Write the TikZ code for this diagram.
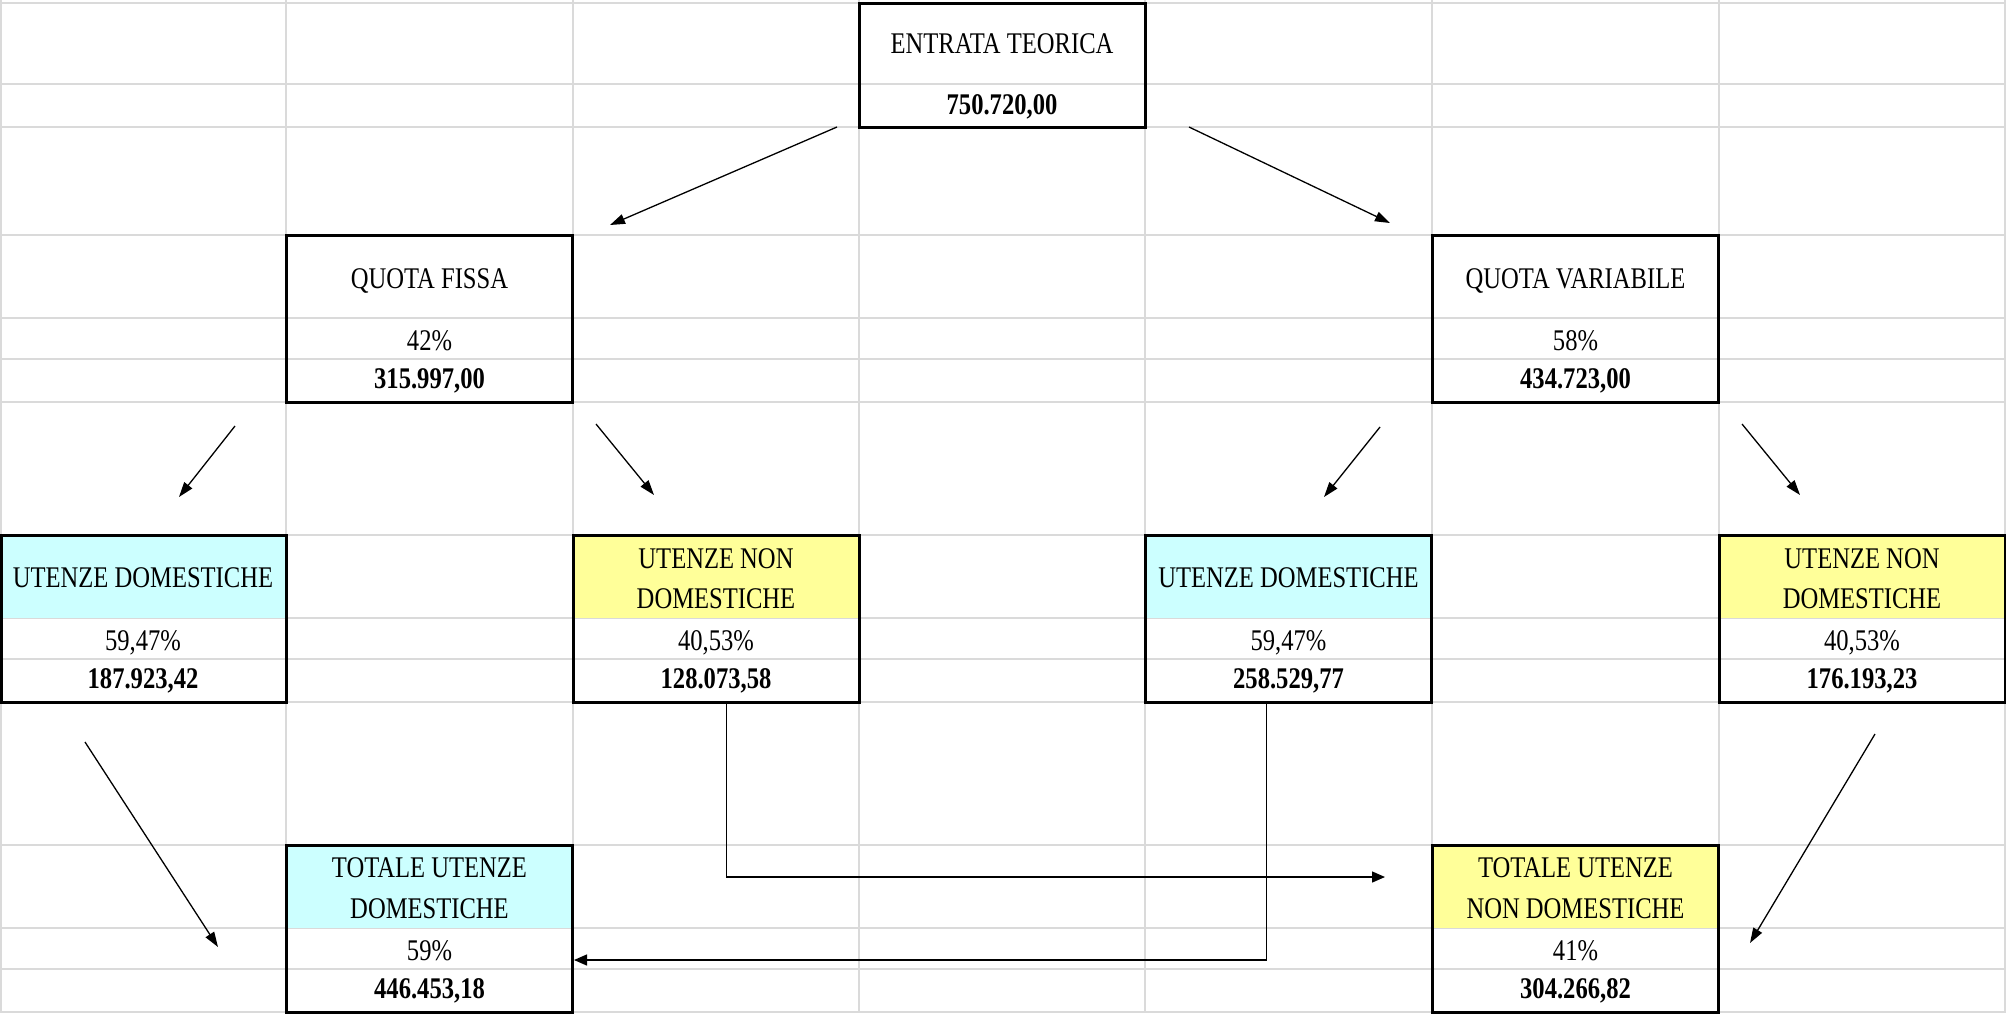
\documentclass[tikz,border=0pt]{standalone}
\usepackage{fontspec}
\setmainfont{Liberation Serif}[FakeStretch=0.82]
\usetikzlibrary{arrows.meta}
\definecolor{gridc}{HTML}{DADADA}
\definecolor{cyanc}{HTML}{CCFFFF}
\definecolor{yelc}{HTML}{FFFF99}
\begin{document}
\begin{tikzpicture}[x=1pt,y=-1pt,
  gridline/.style={gridc, line width=1.6pt},
  boxframe/.style={draw=black, line width=3pt, inner sep=0pt, outer sep=0pt, minimum width=286.5pt, anchor=north west},
  lbl/.style={inner sep=0pt, anchor=base, font=\fontsize{30}{36}\selectfont},
  valtext/.style={inner sep=0pt, anchor=base, font=\fontsize{30}{36}\selectfont\bfseries},
  arr/.style={-{Triangle[length=15pt,width=10pt]}, line width=1.3pt},
  elbow/.style={-{Triangle[length=13pt,width=11pt]}, line width=1.4pt},
]
\useasboundingbox (0,0) rectangle (2006,1013);
\fill[white] (0,0) rectangle (2006,1013);
% grid
\foreach \x in {1,286,573,859,1145,1432,1719,2005} \draw[gridline] (\x,0) -- (\x,1013);
\foreach \y in {3,84,127,235,318,359,402,535,618,659,702,845,928,969,1012} \draw[gridline] (0,\y) -- (2006,\y);
% header fills
\fill[cyanc] (0,535) rectangle (286,618);
\fill[yelc] (573,535) rectangle (859,618);
\fill[cyanc] (1145,535) rectangle (1432,618);
\fill[yelc] (1719,535) rectangle (2005,618);
\fill[cyanc] (286,845) rectangle (573,928);
\fill[yelc] (1432,845) rectangle (1719,928);
% boxes
\node[boxframe, minimum height=124pt] (et) at (859,3) {};
\node[boxframe, minimum height=167pt] (qf) at (286,235) {};
\node[boxframe, minimum height=167pt] (qv) at (1432,235) {};
\node[boxframe, minimum height=167pt, minimum width=285pt] (ud1) at (1.5,535) {};
\node[boxframe, minimum height=167pt] (und1) at (573,535) {};
\node[boxframe, minimum height=167pt] (ud2) at (1145,535) {};
\node[boxframe, minimum height=167pt] (und2) at (1719,535) {};
\node[boxframe, minimum height=167pt] (tud) at (286,845) {};
\node[boxframe, minimum height=167pt] (tund) at (1432,845) {};
% texts
\node[lbl] (et1) at (1002,53) {ENTRATA TEORICA};
\node[valtext] (et2) at (1002,114) {750.720,00};
\node[lbl] (qf1) at (429.5,288) {QUOTA FISSA};
\node[lbl] (qf2) at (429.5,350) {42\%};
\node[valtext] (qf3) at (429.5,388) {315.997,00};
\node[lbl] (qv1) at (1575.5,288) {QUOTA VARIABILE};
\node[lbl] (qv2) at (1575.5,350) {58\%};
\node[valtext] (qv3) at (1575.5,388) {434.723,00};
\node[lbl] (ud1a) at (143,587) {UTENZE DOMESTICHE};
\node[lbl] (ud1b) at (143,650) {59,47\%};
\node[valtext] (ud1c) at (143,688) {187.923,42};
\node[lbl] (und1a) at (716,568) {UTENZE NON};
\node[lbl] (und1b) at (716,608) {DOMESTICHE};
\node[lbl] (und1c) at (716,650) {40,53\%};
\node[valtext] (und1d) at (716,688) {128.073,58};
\node[lbl] (ud2a) at (1288.5,587) {UTENZE DOMESTICHE};
\node[lbl] (ud2b) at (1288.5,650) {59,47\%};
\node[valtext] (ud2c) at (1288.5,688) {258.529,77};
\node[lbl] (und2a) at (1862,568) {UTENZE NON};
\node[lbl] (und2b) at (1862,608) {DOMESTICHE};
\node[lbl] (und2c) at (1862,650) {40,53\%};
\node[valtext] (und2d) at (1862,688) {176.193,23};
\node[lbl] (tud1) at (429.5,877) {TOTALE UTENZE};
\node[lbl] (tud2) at (429.5,918) {DOMESTICHE};
\node[lbl] (tud3) at (429.5,960) {59\%};
\node[valtext] (tud4) at (429.5,998) {446.453,18};
\node[lbl] (tund1) at (1575.5,877) {TOTALE UTENZE};
\node[lbl] (tund2) at (1575.5,918) {NON DOMESTICHE};
\node[lbl] (tund3) at (1575.5,960) {41\%};
\node[valtext] (tund4) at (1575.5,998) {304.266,82};
% arrow end points
\coordinate (a1s) at (837,127);  \coordinate (a1e) at (610,225);
\coordinate (a2s) at (1189,127); \coordinate (a2e) at (1390,223);
\coordinate (a3s) at (235,426);  \coordinate (a3e) at (179,497);
\coordinate (a4s) at (596,424);  \coordinate (a4e) at (654,495);
\coordinate (a5s) at (1380,427); \coordinate (a5e) at (1324,497);
\coordinate (a6s) at (1742,424); \coordinate (a6e) at (1800,495);
\coordinate (a7s) at (85,742);   \coordinate (a7e) at (218,947);
\coordinate (a8s) at (1875,734); \coordinate (a8e) at (1750,943);
\coordinate (e9) at (1385,877);
\coordinate (e10) at (574,960);
% arrows
\draw[arr] (a1s) -- (a1e);
\draw[arr] (a2s) -- (a2e);
\draw[arr] (a3s) -- (a3e);
\draw[arr] (a4s) -- (a4e);
\draw[arr] (a5s) -- (a5e);
\draw[arr] (a6s) -- (a6e);
\draw[arr] (a7s) -- (a7e);
\draw[arr] (a8s) -- (a8e);
\draw[elbow] ([xshift=10pt]und1.south) |- (e9);
\draw[elbow] ([xshift=-21.5pt]ud2.south) |- (e10);
\end{tikzpicture}
\end{document}
